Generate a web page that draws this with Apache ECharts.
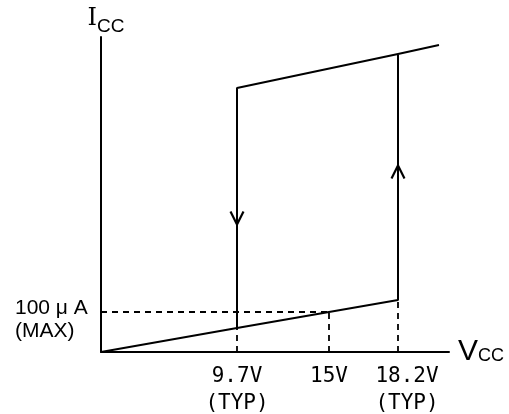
<!DOCTYPE html>
<html>
<head>
<meta charset="utf-8">
<script src="https://cdn.jsdelivr.net/npm/echarts@6/dist/echarts.min.js"></script>
<style>
  html, body { margin: 0; padding: 0; background: #fff; }
  #chart { width: 509px; height: 414px; }
</style>
</head>
<body>
<div id="chart"></div>
<script>
// schematic units (the figure has no real scale)
const VCC_POS = [136, 228, 297]          // 9.7V, 15V, 18.2V
const VCC_LABELS = ['9.7V', '15V', '18.2V']
const VCC_NOTES = ['(TYP)', '', '(TYP)']
const I_MAX_LEVEL = 40                   // 100uA (MAX)
const I_MAX_LABEL = ['100 μ A', '(MAX)']

// hysteresis loop
const rampUp = [[0, 0], [136, 24], [228, 40], [297, 52], [297, 298], [338, 307]]
const rampDown = [[297, 298], [136, 264], [136, 24]]

// dashed guides
const guideLevel = [[0, 40], [228, 40]]
const guide97 = [[136, 0], [136, 24]]
const guide15 = [[228, 0], [228, 40]]
const guide182 = [[297, 0], [297, 52]]

// arrow heads (centre of the chevron)
const arrowDown = [[136, 134]]
const arrowUp = [[297, 180]]

const BLACK = '#000'
const MONO = 'DejaVu Sans Mono'
const SANS = 'Liberation Sans'

function solid(data) {
  return {
    type: 'line', data, symbol: 'none', clip: false, silent: true,
    lineStyle: { color: BLACK, width: 2 },
  }
}

function dashed(data) {
  return {
    type: 'line', data, symbol: 'none', clip: false, silent: true,
    lineStyle: { color: BLACK, width: 1.8, type: [6, 5] },
  }
}

function arrow(data, rotate) {
  return {
    type: 'scatter', data, silent: true,
    symbol: 'path://M0,12L6,0L12,12',
    symbolSize: 13,
    symbolRotate: rotate,
    itemStyle: { color: 'none', borderColor: BLACK, borderWidth: 2.2, opacity: 1 },
  }
}

const chart = echarts.init(document.getElementById('chart'), null, { renderer: 'canvas' })

chart.setOption({
  backgroundColor: '#fff',
  animation: false,
  grid: { left: 101, right: 60, top: 37, bottom: 62, outerBoundsMode: 'none' },
  xAxis: {
    type: 'value',
    min: 0,
    max: 348,
    name: '{v|V}{cc|CC}',
    nameLocation: 'end',
    nameGap: 9,
    nameTextStyle: {
      rich: {
        v: { fontFamily: SANS, fontSize: 30, color: BLACK },
        cc: { fontFamily: SANS, fontSize: 18, color: BLACK, padding: [9, 0, 0, 0] },
      },
    },
    axisLine: { lineStyle: { color: BLACK, width: 2 } },
    axisTick: { show: false },
    splitLine: { show: false },
    axisLabel: {
      customValues: VCC_POS,
      margin: 11,
      color: BLACK,
      fontFamily: MONO,
      fontSize: 21,
      lineHeight: 27,
      formatter: (v) => {
        const i = VCC_POS.indexOf(v)
        const style = i === 2 ? 'r' : 'c'
        const note = VCC_NOTES[i] ? `\n{${style}|${VCC_NOTES[i]}}` : ''
        return `{${style}|${VCC_LABELS[i]}}${note}`
      },
      rich: {
        c: { fontFamily: MONO, fontSize: 21, lineHeight: 27, color: BLACK },
        r: { fontFamily: MONO, fontSize: 21, lineHeight: 27, color: BLACK, padding: [0, 0, 0, 18] },
      },
    },
  },
  yAxis: {
    type: 'value',
    min: 0,
    max: 315,
    name: '{i|I}{cc|CC}',
    nameLocation: 'end',
    nameGap: 1,
    nameTextStyle: {
      padding: [0, 0, 0, 10],
      rich: {
        i: { fontFamily: 'DejaVu Serif', fontSize: 24, color: BLACK },
        cc: { fontFamily: SANS, fontSize: 19, color: BLACK, padding: [16, 0, 0, 0] },
      },
    },
    axisLine: { show: true, lineStyle: { color: BLACK, width: 2 } },
    axisTick: { show: false },
    splitLine: { show: false },
    axisLabel: {
      customValues: [I_MAX_LEVEL],
      formatter: () => `{p|${I_MAX_LABEL[0]}}\n{a|${I_MAX_LABEL[1]}}`,
      align: 'left',
      margin: 86,
      color: BLACK,
      rich: {
        p: { fontFamily: SANS, fontSize: 21, color: BLACK, padding: [18, 0, 0, 0] },
        a: { fontFamily: SANS, fontSize: 21, lineHeight: 26, color: BLACK },
      },
    },
  },
  series: [
    dashed(guideLevel),
    dashed(guide97),
    dashed(guide15),
    dashed(guide182),
    solid(rampUp),
    solid(rampDown),
    arrow(arrowDown, 180),
    arrow(arrowUp, 0),
  ],
})
</script>
</body>
</html>
